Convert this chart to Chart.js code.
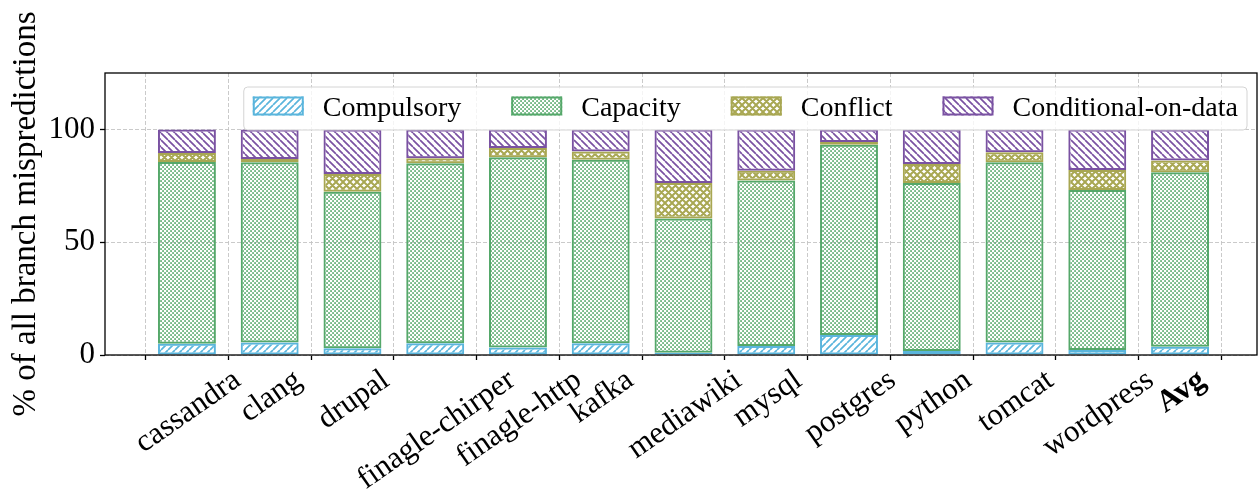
<!DOCTYPE html>
<html>
<head>
<meta charset="utf-8">
<script src="https://cdn.jsdelivr.net/npm/chart.js@4.4.1/dist/chart.umd.min.js"></script>
<style>
  html, body { margin: 0; padding: 0; background: #ffffff; }
  #wrap { width: 1258px; height: 499px; position: relative; }
</style>
</head>
<body>
<div id="wrap"><canvas id="chart"></canvas></div>
<script>
// Workloads on the x axis (the last one is the average, drawn in bold)
const categories = ['cassandra', 'clang', 'drupal', 'finagle-chirper', 'finagle-http', 'kafka',
  'mediawiki', 'mysql', 'postgres', 'python', 'tomcat', 'wordpress', 'Avg'];

// Share of all branch mispredictions per cause (%)
const compulsory        = [5.0, 5.5, 3.0, 5.2, 3.3, 5.2, 1.0, 4.0, 8.9, 1.8, 5.5, 2.2, 3.7];
const capacity          = [80.5, 79.9, 69.4, 79.8, 84.4, 81.4, 59.5, 73.3, 84.3, 74.4, 79.9, 70.9, 77.3];
const conflict          = [4.0, 1.5, 7.8, 2.2, 4.1, 3.6, 15.7, 4.4, 1.2, 8.5, 4.5, 8.9, 5.2];
const conditionalOnData = [10.5, 13.1, 19.8, 12.8, 8.2, 9.8, 23.8, 18.3, 5.6, 15.3, 10.1, 18.0, 13.8];

const yTicks = [0, 50, 100];

const FONT = '"Liberation Serif", "DejaVu Serif", serif';

// Hatch fills
function hatch(kind, color) {
  const s = kind === 'dots' ? 4 : 7;
  const c = document.createElement('canvas');
  c.width = s; c.height = s;
  const g = c.getContext('2d');
  g.strokeStyle = color; g.fillStyle = color;
  if (kind === 'dots') {
    g.fillRect(0.2, 0.2, 1.7, 1.7);
    g.fillRect(2.2, 2.2, 1.7, 1.7);
  } else {
    g.lineWidth = kind === 'cross' ? 2.0 : 1.7;
    g.beginPath();
    for (const x0 of [-s, 0, s]) {
      if (kind === 'fwd' || kind === 'cross') { g.moveTo(x0, s); g.lineTo(x0 + s, 0); }
      if (kind === 'back' || kind === 'cross') { g.moveTo(x0, 0); g.lineTo(x0 + s, s); }
    }
    g.stroke();
  }
  return g.createPattern(c, 'repeat');
}

const series = [
  { label: 'Compulsory', values: compulsory, color: '#5ab5dc', kind: 'fwd' },
  { label: 'Capacity', values: capacity, color: '#55a86a', kind: 'dots' },
  { label: 'Conflict', values: conflict, color: '#a8a752', kind: 'cross' },
  { label: 'Conditional-on-data', values: conditionalOnData, color: '#7a52a2', kind: 'back' }
];
series.forEach(s => { s.pattern = hatch(s.kind, s.color); });

// Rotated workload names, centred under each tick
const categoryLabels = {
  id: 'categoryLabels',
  afterDraw(chart) {
    const { ctx, chartArea } = chart;
    const xs = chart.scales.x;
    const angle = 35 * Math.PI / 180;
    ctx.save();
    ctx.fillStyle = '#000';
    categories.forEach((name, i) => {
      ctx.font = (name === 'Avg' ? 'bold ' : '') + '31px ' + FONT;
      const m = ctx.measureText(name);
      const asc = m.fontBoundingBoxAscent, desc = m.fontBoundingBoxDescent;
      const h = asc + desc, L = m.width;
      const H = L * Math.sin(angle) + h * Math.cos(angle);
      const cx = xs.getPixelForValue(i);
      const cy = chartArea.bottom + 6 + H / 2;
      ctx.setTransform(1, 0, 0, 1, cx, cy);
      ctx.rotate(-angle);
      ctx.textAlign = 'center';
      ctx.textBaseline = 'alphabetic';
      ctx.fillText(name, 0, (asc - desc) / 2);
    });
    ctx.restore();
  }
};

// Axes frame on all four sides
const frame = {
  id: 'frame',
  afterDatasetsDraw(chart) {
    const { ctx, chartArea: a } = chart;
    ctx.save();
    ctx.strokeStyle = '#000';
    ctx.lineWidth = 1.3;
    ctx.strokeRect(a.left, a.top, a.right - a.left, a.bottom - a.top);
    ctx.restore();
  }
};

// Single-row legend in the upper right of the plot
const hatchLegend = {
  id: 'hatchLegend',
  afterDraw(chart) {
    const { ctx, chartArea: a } = chart;
    ctx.save();
    ctx.font = '28px ' + FONT;
    const padX = 9, patchW = 51, patchH = 19, gap = 19, colGap = 50;
    const widths = series.map(s => ctx.measureText(s.label).width);
    const total = padX * 2 + series.length * (patchW + gap) + widths.reduce((p, q) => p + q, 0) + colGap * (series.length - 1);
    const right = a.right - 10, top = a.top + 14, height = 43;
    const left = right - total;
    ctx.beginPath();
    ctx.roundRect(left, top, total, height, 4);
    ctx.fillStyle = 'rgba(255,255,255,0.8)';
    ctx.fill();
    ctx.strokeStyle = '#d4d4d4';
    ctx.lineWidth = 1;
    ctx.stroke();
    let x = left + padX;
    const py = top + 9.5;
    series.forEach((s, i) => {
      ctx.fillStyle = s.pattern;
      ctx.fillRect(x, py, patchW, patchH);
      ctx.strokeStyle = s.color;
      ctx.lineWidth = 2;
      ctx.strokeRect(x + 1, py + 1, patchW - 2, patchH - 2);
      ctx.fillStyle = '#000';
      ctx.textAlign = 'left';
      ctx.textBaseline = 'alphabetic';
      ctx.fillText(s.label, x + patchW + gap, top + 28.5);
      x += patchW + gap + widths[i] + colGap;
    });
    ctx.restore();
  }
};

new Chart(document.getElementById('chart'), {
  type: 'bar',
  data: {
    datasets: series.map(s => ({
      label: s.label,
      data: s.values.map((v, i) => ({ x: i, y: v })),
      backgroundColor: s.pattern,
      borderColor: s.color,
      borderWidth: 2,
      borderSkipped: false,
      categoryPercentage: 1.0,
      barPercentage: 0.7
    }))
  },
  options: {
    responsive: true,
    maintainAspectRatio: false,
    animation: false,
    devicePixelRatio: 1,
    layout: { padding: { top: 73, right: 1, left: 0, bottom: 0 } },
    plugins: { legend: { display: false }, tooltip: { enabled: false } },
    scales: {
      x: {
        type: 'linear',
        stacked: true,
        min: -0.99,
        max: 12.93,
        offset: false,
        afterBuildTicks: (scale) => { scale.ticks = categories.map((_, i) => ({ value: i })); },
        afterFit: (scale) => { scale.height = 144; },
        ticks: { display: false },
        grid: {
          color: '#c4c4c4', lineWidth: 0.9, borderDash: [4, 2],
          tickColor: '#000', tickLength: 5, tickWidth: 1.3, tickBorderDash: []
        },
        border: { display: false, dash: [4, 2] }
      },
      y: {
        stacked: true,
        min: 0,
        max: 125,
        afterBuildTicks: (scale) => { scale.ticks = yTicks.map(v => ({ value: v })); },
        afterFit: (scale) => { scale.width = 105; },
        ticks: { padding: 5, color: '#000', font: { family: FONT, size: 31 } },
        grid: {
          color: '#c4c4c4', lineWidth: 0.9, borderDash: [4, 2],
          tickColor: '#000', tickLength: 5, tickWidth: 1.3, tickBorderDash: []
        },
        border: { display: false, dash: [4, 2] },
        title: {
          display: true,
          text: '% of all branch mispredictions',
          color: '#000',
          font: { family: FONT, size: 33 },
          padding: { top: 7, bottom: 0 }
        }
      }
    }
  },
  plugins: [frame, hatchLegend, categoryLabels]
});
</script>
</body>
</html>
